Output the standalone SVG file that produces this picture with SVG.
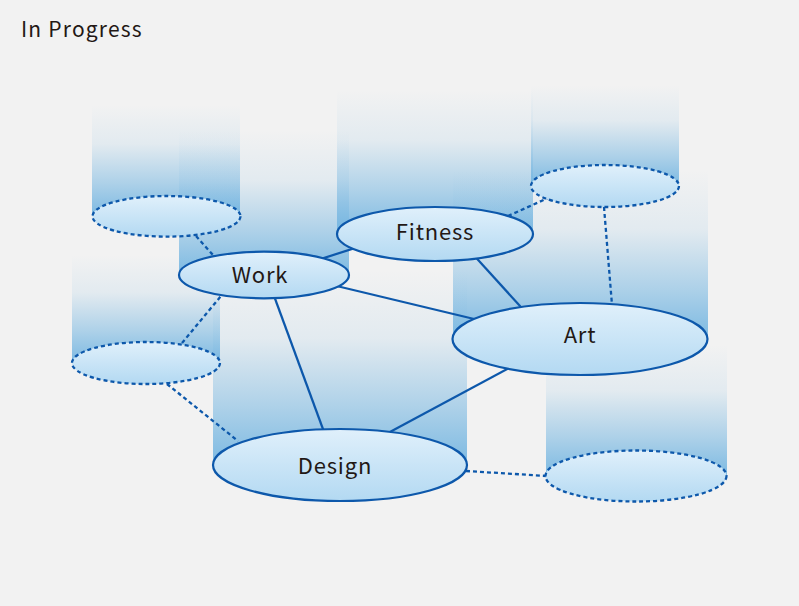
<svg xmlns="http://www.w3.org/2000/svg" width="799" height="606" viewBox="0 0 799 606">
  <defs>
    <linearGradient id="colGrad" x1="0" y1="0" x2="0" y2="1">
      <stop offset="0" stop-color="#6fb3e0" stop-opacity="0"/>
      <stop offset="0.35" stop-color="#6fb3e0" stop-opacity="0.12"/>
      <stop offset="0.7" stop-color="#6fb3e0" stop-opacity="0.52"/>
      <stop offset="1" stop-color="#6fb3e0" stop-opacity="0.9"/>
    </linearGradient>
    <linearGradient id="ellGrad" x1="0" y1="0" x2="0" y2="1">
      <stop offset="0" stop-color="#e0f0fb"/>
      <stop offset="1" stop-color="#b3d9f2"/>
    </linearGradient>
    <style>
      .col { fill: url(#colGrad); }
      .node { fill: url(#ellGrad); stroke: #0d58ab; stroke-width: 2.2; }
      .ghost { fill: url(#ellGrad); stroke: #0d58ab; stroke-width: 2.3; stroke-dasharray: 4 3; }
      .link { stroke: #0d58ab; stroke-width: 2.2; fill: none; }
      .dlink { stroke: #0d58ab; stroke-width: 2.3; fill: none; stroke-dasharray: 4 3; }
      .label { font-family: "Noto Sans CJK JP", "Noto Sans", sans-serif; font-size: 22px; fill: #231815; text-anchor: middle; letter-spacing: 0.8px; }
      .title { font-family: "Noto Sans CJK JP", "Noto Sans", sans-serif; font-size: 21px; fill: #231815; letter-spacing: 1.2px; }
    </style>
  </defs>
  <rect width="799" height="606" fill="#f2f2f2"/>
  <text class="title" x="21" y="37">In Progress</text>

  <g id="columns">
    <rect class="col" x="92" y="105" width="148" height="111"/>
    <rect class="col" x="179" y="130" width="170" height="145"/>
    <rect class="col" x="337" y="90" width="196" height="144"/>
    <rect class="col" x="531" y="85" width="148" height="101"/>
    <rect class="col" x="453" y="170" width="255" height="169"/>
    <rect class="col" x="72" y="255" width="148" height="108"/>
    <rect class="col" x="213" y="270" width="254" height="195"/>
    <rect class="col" x="546" y="345" width="181" height="131"/>
  </g>

  <g id="connectors">
    <line class="link" x1="297" y1="266.6" x2="382" y2="239.4"/>
    <line class="link" x1="320" y1="282" x2="495" y2="324"/>
    <line class="link" x1="270" y1="285" x2="327" y2="440"/>
    <line class="link" x1="470" y1="251" x2="530" y2="317"/>
    <line class="link" x1="375" y1="440" x2="520" y2="362"/>
    <line class="dlink" x1="196" y1="236" x2="213" y2="255"/>
    <line class="dlink" x1="508" y1="216" x2="548" y2="198"/>
    <line class="dlink" x1="604" y1="207" x2="612" y2="305"/>
    <line class="dlink" x1="182" y1="343" x2="221" y2="296"/>
    <line class="dlink" x1="167" y1="384" x2="238" y2="441"/>
    <line class="dlink" x1="466" y1="471" x2="547" y2="476"/>
  </g>

  <g id="ghost-top-left">
    <ellipse class="ghost" cx="166.5" cy="216.3" rx="74" ry="20.3"/>
  </g>
  <g id="ghost-top-right">
    <ellipse class="ghost" cx="605" cy="186" rx="74" ry="21"/>
  </g>
  <g id="ghost-left">
    <ellipse class="ghost" cx="146" cy="363" rx="74" ry="21"/>
  </g>
  <g id="ghost-bottom-right">
    <ellipse class="ghost" cx="636" cy="476" rx="90.5" ry="25.5"/>
  </g>
  <g id="node-work">
    <ellipse class="node" cx="264" cy="275" rx="85" ry="23.3"/>
    <text class="label" x="260" y="283">Work</text>
  </g>
  <g id="node-fitness">
    <ellipse class="node" cx="435" cy="234" rx="98" ry="27"/>
    <text class="label" x="435" y="240">Fitness</text>
  </g>
  <g id="node-art">
    <ellipse class="node" cx="580" cy="339" rx="127.5" ry="36"/>
    <text class="label" x="580" y="343">Art</text>
  </g>
  <g id="node-design">
    <ellipse class="node" cx="340" cy="465" rx="127" ry="36"/>
    <text class="label" x="335" y="474">Design</text>
  </g>
</svg>
